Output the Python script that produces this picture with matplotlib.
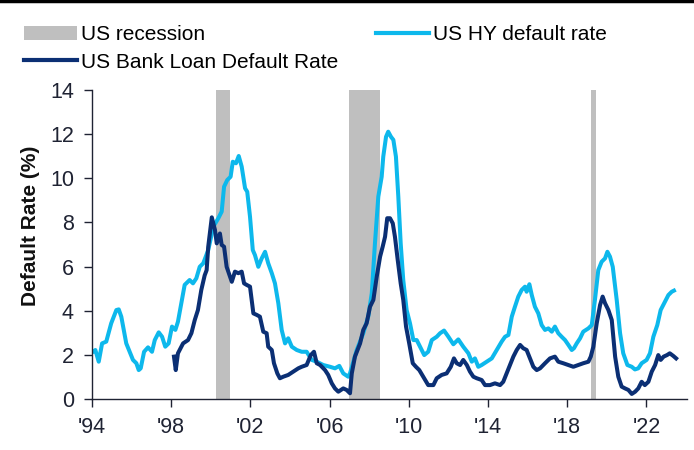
import matplotlib
matplotlib.use("Agg")
import matplotlib.pyplot as plt
from matplotlib.patches import Patch
from matplotlib.lines import Line2D

# US HY default rate (%)
hy_years = [1994.05, 1994.17, 1994.34, 1994.51, 1994.72, 1994.97, 1995.23, 1995.35, 1995.48, 1995.73,
            1995.9, 1996.07, 1996.24, 1996.36, 1996.46, 1996.63, 1996.83, 1997.03, 1997.17, 1997.37,
            1997.54, 1997.7, 1997.87, 1998.04, 1998.21, 1998.34, 1998.51, 1998.68, 1998.93, 1999.1,
            1999.27, 1999.44, 1999.62, 1999.87, 2000.13, 2000.38, 2000.55, 2000.67, 2000.83, 2001.0,
            2001.11, 2001.27, 2001.41, 2001.56, 2001.73, 2001.84, 2001.98, 2002.12, 2002.23, 2002.4,
            2002.57, 2002.74, 2002.9, 2003.08, 2003.24, 2003.41, 2003.58, 2003.75, 2003.91, 2004.09,
            2004.34, 2004.59, 2004.84, 2005.1, 2005.35, 2005.68, 2006.02, 2006.27, 2006.49, 2006.69,
            2006.94, 2007.03, 2007.37, 2007.7, 2007.95, 2008.13, 2008.29, 2008.46, 2008.63, 2008.71,
            2008.85, 2008.96, 2009.1, 2009.22, 2009.35, 2009.47, 2009.59, 2009.72, 2009.89, 2010.06,
            2010.23, 2010.4, 2010.57, 2010.78, 2010.98, 2011.16, 2011.41, 2011.58, 2011.78, 2012.0,
            2012.25, 2012.5, 2012.75, 2013.01, 2013.18, 2013.34, 2013.51, 2013.68, 2013.93, 2014.19,
            2014.44, 2014.69, 2014.86, 2015.03, 2015.2, 2015.36, 2015.53, 2015.7, 2015.87, 2015.95,
            2016.09, 2016.21, 2016.37, 2016.54, 2016.71, 2016.88, 2017.05, 2017.22, 2017.38, 2017.55,
            2017.72, 2017.89, 2018.06, 2018.23, 2018.34, 2018.48, 2018.65, 2018.81, 2019.07, 2019.24,
            2019.4, 2019.57, 2019.74, 2019.91, 2020.03, 2020.16, 2020.3, 2020.5, 2020.67, 2020.83,
            2021.04, 2021.26, 2021.42, 2021.59, 2021.76, 2022.01, 2022.18, 2022.35, 2022.55, 2022.72,
            2022.94, 2023.11, 2023.28, 2023.39]
hy_rate = [2.14, 2.22, 1.69, 2.52, 2.6, 3.43, 4.03, 4.06, 3.73, 2.52,
           2.14, 1.77, 1.62, 1.31, 1.39, 2.14, 2.34, 2.14, 2.67, 3.02,
           2.82, 2.37, 2.52, 3.28, 3.13, 3.5, 4.34, 5.17, 5.39, 5.24,
           5.47, 5.99, 6.15, 6.75, 7.81, 8.19, 8.49, 9.62, 9.92, 10.07,
           10.75, 10.68, 11.01, 10.53, 9.55, 9.39, 8.26, 6.75, 6.52, 5.99,
           6.37, 6.67, 6.15, 5.7, 5.24, 4.34, 3.13, 2.52, 2.75, 2.37,
           2.22, 2.14, 2.14, 1.77, 1.69, 1.54, 1.46, 1.39, 1.5, 1.16,
           1.01, 1.16, 2.22, 2.98, 3.73, 4.79, 7.05, 9.17, 10.07, 10.98,
           11.88, 12.11, 11.88, 11.74, 10.98, 9.17, 7.05, 5.39, 4.03, 3.43,
           2.67, 2.67, 2.37, 1.99, 2.14, 2.67, 2.82, 2.98, 3.1, 2.82,
           2.48, 2.7, 2.37, 2.07, 1.69, 1.84, 1.46, 1.54, 1.69, 1.84,
           2.22, 2.6, 2.82, 2.9, 3.73, 4.18, 4.64, 4.94, 5.09, 4.86,
           5.2, 4.71, 4.18, 3.88, 3.35, 3.13, 3.2, 3.05, 3.28, 2.98,
           2.82, 2.67, 2.45, 2.22, 2.3, 2.52, 2.75, 3.05, 3.2, 3.35,
           4.49, 5.84, 6.22, 6.37, 6.67, 6.45, 5.99, 4.49, 2.98, 2.07,
           1.54, 1.46, 1.34, 1.39, 1.62, 1.77, 2.07, 2.82, 3.35, 4.03,
           4.41, 4.71, 4.86, 4.91]

# US Bank Loan default rate (%)
bl_years = [1998.14, 1998.23, 1998.34, 1998.6, 1998.85, 1999.02, 1999.19, 1999.35, 1999.52, 1999.69,
            1999.79, 1999.87, 2000.05, 2000.21, 2000.3, 2000.46, 2000.55, 2000.67, 2000.8, 2000.97,
            2001.06, 2001.22, 2001.39, 2001.56, 2001.68, 2001.81, 2001.98, 2002.15, 2002.32, 2002.48,
            2002.65, 2002.82, 2002.9, 2003.08, 2003.19, 2003.36, 2003.49, 2003.66, 2003.91, 2004.17,
            2004.42, 2004.59, 2004.84, 2005.05, 2005.21, 2005.35, 2005.52, 2005.77, 2005.93, 2006.11,
            2006.27, 2006.44, 2006.69, 2006.86, 2007.03, 2007.12, 2007.28, 2007.54, 2007.7, 2007.87,
            2008.04, 2008.21, 2008.38, 2008.55, 2008.68, 2008.8, 2008.91, 2009.05, 2009.19, 2009.3,
            2009.44, 2009.59, 2009.72, 2009.86, 2010.02, 2010.2, 2010.36, 2010.53, 2010.73, 2010.98,
            2011.24, 2011.41, 2011.66, 2011.91, 2012.12, 2012.28, 2012.42, 2012.59, 2012.75, 2012.93,
            2013.09, 2013.26, 2013.43, 2013.68, 2013.85, 2014.1, 2014.35, 2014.61, 2014.77, 2014.94,
            2015.11, 2015.28, 2015.45, 2015.62, 2015.78, 2015.95, 2016.12, 2016.29, 2016.46, 2016.63,
            2016.88, 2017.13, 2017.38, 2017.55, 2017.8, 2018.06, 2018.31, 2018.56, 2018.81, 2019.07,
            2019.19, 2019.32, 2019.49, 2019.66, 2019.79, 2019.91, 2020.08, 2020.25, 2020.42, 2020.58,
            2020.75, 2020.92, 2021.09, 2021.26, 2021.43, 2021.59, 2021.76, 2021.92, 2022.1, 2022.27,
            2022.44, 2022.6, 2022.72, 2022.87, 2023.04, 2023.18, 2023.36, 2023.5]
bl_rate = [1.92, 1.31, 2.07, 2.52, 2.67, 2.98, 3.58, 4.03, 4.94, 5.6,
           5.84, 6.9, 8.23, 7.66, 7.05, 7.5, 6.98, 6.9, 5.99, 5.54,
           5.31, 5.77, 5.7, 5.77, 5.24, 5.17, 5.09, 3.88, 3.81, 3.73,
           3.05, 2.98, 2.37, 2.22, 1.62, 1.16, 0.94, 1.01, 1.09, 1.24,
           1.39, 1.46, 1.54, 1.99, 2.14, 1.62, 1.54, 1.31, 1.09, 0.71,
           0.48, 0.33, 0.48, 0.41, 0.26, 1.16, 1.92, 2.52, 3.13, 3.43,
           4.18, 4.49, 5.54, 6.45, 6.9, 7.35, 8.19, 8.19, 7.96, 7.35,
           6.3, 5.24, 4.49, 3.28, 2.52, 1.62, 1.46, 1.31, 1.01, 0.63,
           0.63, 0.94, 1.09, 1.16, 1.46, 1.84, 1.62, 1.54, 1.77, 1.54,
           1.24, 1.01, 0.94, 0.86, 0.63, 0.63, 0.71, 0.63, 0.78, 1.16,
           1.54, 1.92, 2.22, 2.45, 2.3, 2.22, 1.84, 1.46, 1.31, 1.39,
           1.62, 1.84, 1.92, 1.69, 1.62, 1.54, 1.46, 1.54, 1.62, 1.69,
           1.92, 2.37, 3.43, 4.26, 4.64, 4.34, 4.03, 3.58, 1.92, 1.01,
           0.56, 0.48, 0.41, 0.23, 0.33, 0.48, 0.78, 0.63, 0.78, 1.24,
           1.54, 1.99, 1.77, 1.92, 1.99, 2.07, 1.95, 1.84]

# recession shading (start, end) as placed on the chart
recession_start = [2000.26, 2006.98, 2019.2]
recession_end = [2000.97, 2008.55, 2019.45]

tick_years = [1994, 1998, 2002, 2006, 2010, 2014, 2018, 2022]
tick_labels = ["'94", "'98", "'02", "'06", "'10", "'14", "'18", "'22"]

HY_COLOR = "#0DB8EC"
BL_COLOR = "#0B2F74"
REC_COLOR = "#BFBFBF"
AXIS_COLOR = "#1F2333"

plt.rcParams['font.family'] = ['Liberation Sans', 'DejaVu Sans']

fig = plt.figure(figsize=(6.94, 4.5), dpi=100)
ax = fig.add_axes([92 / 694, 1 - 399 / 450, (687 - 92) / 694, (399 - 90) / 450])

for s, e in zip(recession_start, recession_end):
    ax.axvspan(s, e, color=REC_COLOR, lw=0, zorder=1)

ax.plot(hy_years, hy_rate, color=HY_COLOR, lw=2.9, zorder=2, solid_joinstyle='round')
ax.plot(bl_years, bl_rate, color=BL_COLOR, lw=2.9, zorder=3, solid_joinstyle='round')

ax.set_xlim(1994, 2024.05)
ax.set_ylim(0, 14)
ax.set_yticks(range(0, 15, 2))
ax.set_xticks(tick_years)
ax.set_xticklabels(tick_labels)
ax.tick_params(axis='both', labelsize=15.5, colors=AXIS_COLOR, direction='out', length=6, width=1)
ax.tick_params(axis='y', pad=7)
ax.tick_params(axis='x', pad=7)
ax.set_ylabel('Default Rate (%)', fontsize=15, fontweight='bold', color='#111111')
ax.yaxis.set_label_coords(-0.088, 0.56)

for side in ['top', 'right']:
    ax.spines[side].set_visible(False)
for side in ['left', 'bottom']:
    ax.spines[side].set_color(AXIS_COLOR)
    ax.spines[side].set_linewidth(1)

handles = [Patch(facecolor=REC_COLOR, edgecolor='none', label='US recession'),
           Line2D([], [], color=BL_COLOR, lw=3, label='US Bank Loan Default Rate'),
           Line2D([], [], color=HY_COLOR, lw=3, label='US HY default rate')]
fig.legend(handles=handles, ncol=2, loc='upper left', bbox_to_anchor=(0.022, 0.962),
           frameon=False, fontsize=15, handlelength=2.55, handleheight=0.7,
           handletextpad=0.2, columnspacing=1.8, labelspacing=0.4, borderaxespad=0)

# thin dark rule across the top
fig.add_artist(Line2D([0, 1], [0.997, 0.997], color='black', lw=2.5, transform=fig.transFigure))

fig.savefig('out.png', dpi=100)
